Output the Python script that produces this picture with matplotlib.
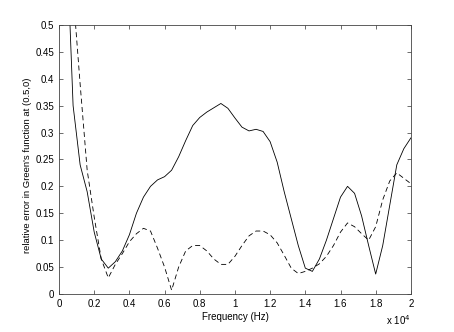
import numpy as np
import matplotlib
matplotlib.use("Agg")
import matplotlib.pyplot as plt
from matplotlib.ticker import FuncFormatter

# frequency grid (Hz), sampled every 400 Hz
freq = np.arange(400, 20001, 400)

# relative error, solid curve
err_solid = [0.69, 0.35, 0.24, 0.19, 0.115, 0.065, 0.048, 0.06, 0.08, 0.11,
             0.15, 0.18, 0.2, 0.212, 0.218, 0.23, 0.255, 0.285, 0.313, 0.328,
             0.338, 0.346, 0.354, 0.345, 0.327, 0.31, 0.303, 0.306, 0.302, 0.283,
             0.245, 0.19, 0.14, 0.09, 0.048, 0.042, 0.065, 0.1, 0.14, 0.18,
             0.2, 0.187, 0.145, 0.09, 0.037, 0.09, 0.165, 0.24, 0.27, 0.29]

# relative error, dashed curve
err_dashed = [1.0, 0.56, 0.39, 0.23, 0.143, 0.065, 0.03, 0.055, 0.075, 0.097,
              0.112, 0.122, 0.117, 0.085, 0.05, 0.007, 0.05, 0.08, 0.09, 0.09,
              0.08, 0.065, 0.055, 0.055, 0.07, 0.09, 0.108, 0.117, 0.117, 0.11,
              0.095, 0.072, 0.048, 0.038, 0.042, 0.048, 0.056, 0.07, 0.09, 0.115,
              0.132, 0.125, 0.112, 0.1, 0.125, 0.175, 0.21, 0.225, 0.215, 0.205]

plt.rcParams['font.family'] = ['Liberation Sans', 'DejaVu Sans']

fig = plt.figure(figsize=(4.54, 3.32), dpi=100)
ax = fig.add_axes([0.130, 0.1145, 0.775, 0.8105])

ax.plot(freq, err_solid, color='black', linewidth=0.6)
ax.plot(freq, err_dashed, color='black', linewidth=0.6, linestyle=(0, (6, 4)))

ax.set_xlim(0, 20000)
ax.set_ylim(0, 0.5)
ax.set_xticks(np.arange(0, 20001, 2000))
ax.set_yticks(np.arange(0, 0.501, 0.05))
ax.xaxis.set_major_formatter(FuncFormatter(lambda v, p: f'{v / 1e4:g}'))
ax.yaxis.set_major_formatter(FuncFormatter(lambda v, p: f'{round(v, 2):g}'))

ax.tick_params(direction='in', length=3, width=0.5, labelsize=7,
               top=True, right=True, colors='#333333', labelcolor='black')
for s in ax.spines.values():
    s.set_linewidth(0.6)
    s.set_color('#444444')

ax.set_xlabel('Frequency (Hz)', fontsize=7, labelpad=2)
ax.set_ylabel("relative error in Green's function at (0.5,0)", fontsize=6.8)
ax.yaxis.set_label_coords(-0.078, 0.48)
fig.text(0.905, 0.036, r'x 10$^4$', ha='right', va='center', fontsize=7)

fig.savefig('out.png', dpi=100)
